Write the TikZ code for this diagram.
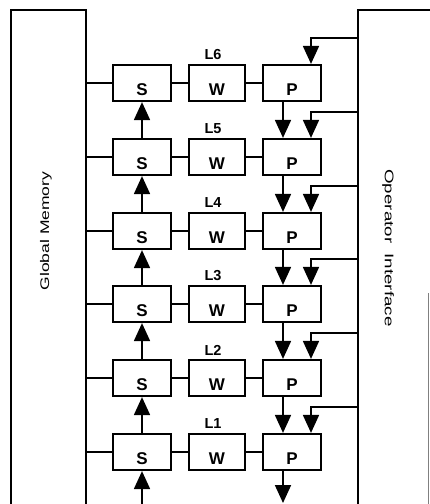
\documentclass[tikz,border=0pt]{standalone}
\usepackage{fontspec}
\setmainfont{Liberation Sans}
\usetikzlibrary{arrows.meta,positioning}

\begin{document}
\begin{tikzpicture}[x=1pt,y=-1pt,
    box/.style={draw,line width=2.2pt,minimum width=58pt,minimum height=36pt,
                inner sep=0pt,text height=25pt,text depth=0pt,
                font=\fontsize{17}{17}\selectfont\bfseries},
    lvl/.style={font=\fontsize{14.5}{14.5}\selectfont\bfseries},
    bus/.style={line width=1.8pt},
    arr/.style={-{Triangle[length=18pt,width=16pt]},line width=1.8pt},
    side/.style={font=\fontsize{12.5}{12.5}\selectfont},
]
\useasboundingbox (0,0) rectangle (429,504);

% Global memory (open at the bottom)
\draw[line width=2.4pt] (11,504) -- (11,10) -- (86,10) -- (86,504);
\node[side,rotate=90] (gm) at (46,231) {\scalebox{1.4}[1]{Global Memory}};

% Operator interface
\draw[line width=2.4pt] (358,504) -- (358,10) -- (435,10);
\draw[gray,line width=0.8pt] (428,293) -- (428,504);
\node[side,rotate=-90] (oi) at (388,248) {\scalebox{1.5}[1]{Operator\ \ Interface}};

% Level 6
\node[box] (s6) at (142,83) {S};
\node[box,minimum width=56pt] (w6) at (217,83) {W};
\node[box] (p6) at (292,83) {P};
\node[lvl] (l6) at (213,55) {L6};

% Level 5
\node[box] (s5) at (142,157) {S};
\node[box,minimum width=56pt] (w5) at (217,157) {W};
\node[box] (p5) at (292,157) {P};
\node[lvl] (l5) at (213,129) {L5};

% Level 4
\node[box] (s4) at (142,231) {S};
\node[box,minimum width=56pt] (w4) at (217,231) {W};
\node[box] (p4) at (292,231) {P};
\node[lvl] (l4) at (213,203) {L4};

% Level 3
\node[box] (s3) at (142,304) {S};
\node[box,minimum width=56pt] (w3) at (217,304) {W};
\node[box] (p3) at (292,304) {P};
\node[lvl] (l3) at (213,276) {L3};

% Level 2
\node[box] (s2) at (142,378) {S};
\node[box,minimum width=56pt] (w2) at (217,378) {W};
\node[box] (p2) at (292,378) {P};
\node[lvl] (l2) at (213,350) {L2};

% Level 1
\node[box] (s1) at (142,452) {S};
\node[box,minimum width=56pt] (w1) at (217,452) {W};
\node[box] (p1) at (292,452) {P};
\node[lvl] (l1) at (213,424) {L1};

% taps on the global memory bus
\coordinate (g6) at (86,83);
\coordinate (g5) at (86,157);
\coordinate (g4) at (86,231);
\coordinate (g3) at (86,304);
\coordinate (g2) at (86,378);
\coordinate (g1) at (86,452);
\draw[bus] (g6) -- (s6.west) (s6.east) -- (w6.west) (w6.east) -- (p6.west);
\draw[bus] (g5) -- (s5.west) (s5.east) -- (w5.west) (w5.east) -- (p5.west);
\draw[bus] (g4) -- (s4.west) (s4.east) -- (w4.west) (w4.east) -- (p4.west);
\draw[bus] (g3) -- (s3.west) (s3.east) -- (w3.west) (w3.east) -- (p3.west);
\draw[bus] (g2) -- (s2.west) (s2.east) -- (w2.west) (w2.east) -- (p2.west);
\draw[bus] (g1) -- (s1.west) (s1.east) -- (w1.west) (w1.east) -- (p1.west);

% S chain runs upwards
\coordinate (sin) at (142,504);
\draw[arr] (sin) -- (s1.south);
\draw[arr] (s1.north) -- (s2.south);
\draw[arr] (s2.north) -- (s3.south);
\draw[arr] (s3.north) -- (s4.south);
\draw[arr] (s4.north) -- (s5.south);
\draw[arr] (s5.north) -- (s6.south);

% P chain runs downwards
\coordinate (pout) at (283,503);
\draw[arr] ([xshift=-9pt]p6.south) -- ([xshift=-9pt]p5.north);
\draw[arr] ([xshift=-9pt]p5.south) -- ([xshift=-9pt]p4.north);
\draw[arr] ([xshift=-9pt]p4.south) -- ([xshift=-9pt]p3.north);
\draw[arr] ([xshift=-9pt]p3.south) -- ([xshift=-9pt]p2.north);
\draw[arr] ([xshift=-9pt]p2.south) -- ([xshift=-9pt]p1.north);
\draw[arr] ([xshift=-9pt]p1.south) -- (pout);

% feeds from the operator interface
\coordinate (f6) at (358,38);
\coordinate (f5) at (358,112);
\coordinate (f4) at (358,186);
\coordinate (f3) at (358,259);
\coordinate (f2) at (358,333);
\coordinate (f1) at (358,407);
\draw[arr] (f6) -| ([xshift=19pt]p6.north);
\draw[arr] (f5) -| ([xshift=19pt]p5.north);
\draw[arr] (f4) -| ([xshift=19pt]p4.north);
\draw[arr] (f3) -| ([xshift=19pt]p3.north);
\draw[arr] (f2) -| ([xshift=19pt]p2.north);
\draw[arr] (f1) -| ([xshift=19pt]p1.north);

\end{tikzpicture}
\end{document}
